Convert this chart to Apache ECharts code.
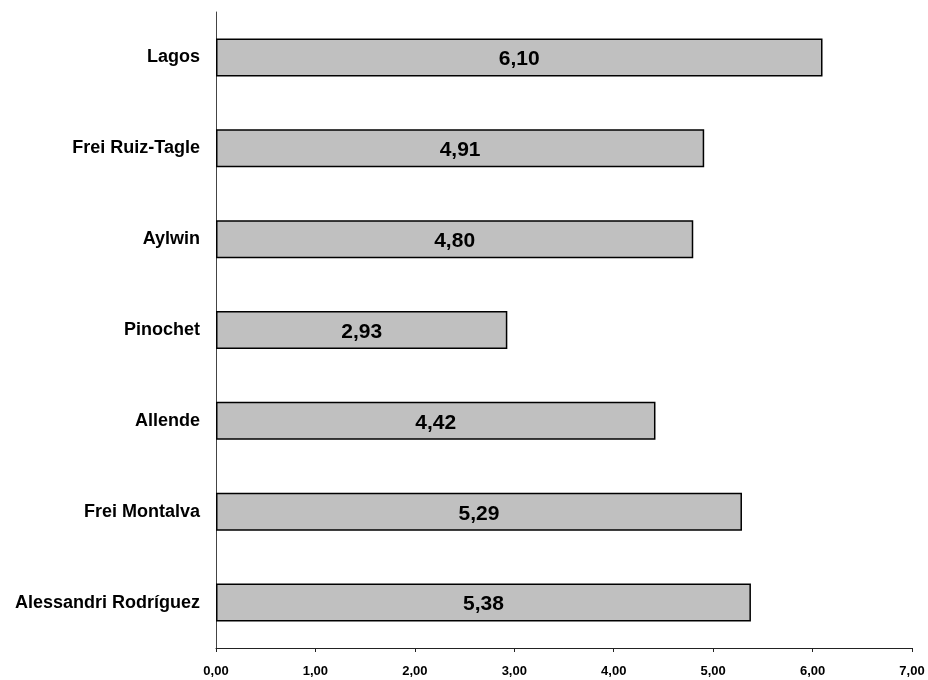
<!DOCTYPE html>
<html>
<head>
<meta charset="utf-8">
<script src="https://cdn.jsdelivr.net/npm/echarts@6/dist/echarts.min.js"></script>
<style>
  html, body { margin: 0; padding: 0; background: #fff; }
  #chart { width: 928px; height: 680px; }
</style>
</head>
<body>
<div id="chart"></div>
<script>
// data
const presidents = ['Lagos', 'Frei Ruiz-Tagle', 'Aylwin', 'Pinochet', 'Allende', 'Frei Montalva', 'Alessandri Rodríguez']
const values = [6.10, 4.91, 4.80, 2.93, 4.42, 5.29, 5.38]

function fmt(v) {
  return v.toFixed(2).replace('.', ',')
}

let chart = echarts.init(document.getElementById('chart'))
let option = {
  animation: false,
  textStyle: { fontFamily: 'Liberation Sans, Arial, sans-serif' },
  grid: {
    left: 216,
    right: 16,
    top: 12,
    bottom: 32,
    containLabel: false,
  },
  xAxis: {
    type: 'value',
    min: 0,
    max: 7,
    interval: 1,
    axisLine: { show: true, lineStyle: { color: '#222', width: 1 } },
    axisTick: { show: true, length: 4, lineStyle: { color: '#222' } },
    splitLine: { show: false },
    axisLabel: {
      color: '#000',
      fontWeight: 'bold',
      fontSize: 13,
      margin: 17,
      formatter: fmt,
    },
  },
  yAxis: {
    type: 'category',
    inverse: true,
    data: presidents,
    axisLine: { show: true, lineStyle: { color: '#444', width: 1 } },
    axisTick: { show: false },
    axisLabel: {
      color: '#000',
      fontWeight: 'bold',
      fontSize: 18,
      margin: 16,
    },
  },
  series: [{
    type: 'bar',
    data: values,
    barWidth: 38,
    itemStyle: {
      color: '#c0c0c0',
      borderColor: '#000',
      borderWidth: 1.5,
    },
    label: {
      show: true,
      position: 'inside',
      color: '#000',
      fontWeight: 'bold',
      fontSize: 21,
      offset: [0, 2],
      formatter: p => fmt(p.value),
    },
  }],
}
chart.setOption(option)
</script>
</body>
</html>
